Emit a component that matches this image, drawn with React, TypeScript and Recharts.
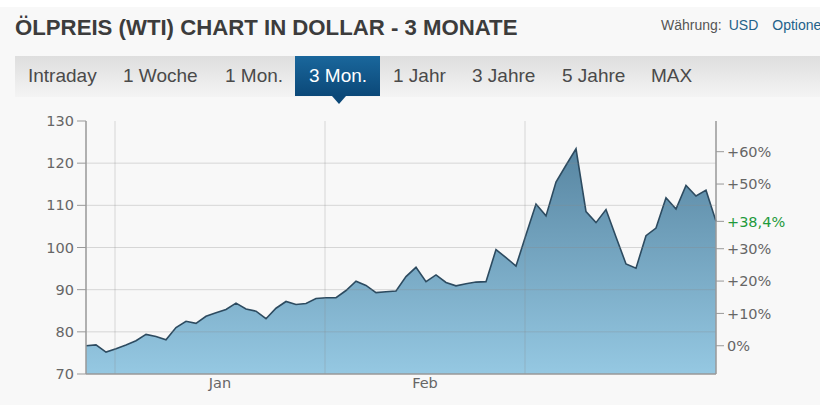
import React from "react";
import {
    AreaChart,
    Area,
    XAxis,
    YAxis,
    ReferenceLine,
} from "recharts";

// WTI close prices, one per trading day
const prices = [
    76.7, 76.9, 75.2, 76.0, 76.9, 77.9, 79.4, 78.9, 78.1, 81.0,
    82.5, 82.0, 83.7, 84.5, 85.3, 86.8, 85.4, 84.9, 83.1, 85.6,
    87.2, 86.5, 86.7, 87.9, 88.1, 88.1, 89.8, 92.0, 91.0, 89.3,
    89.5, 89.7, 93.1, 95.3, 91.9, 93.5, 91.7, 90.9, 91.4, 91.8,
    91.9, 99.5, 97.6, 95.6, 103.0, 110.3, 107.5, 115.5, 119.5, 123.4,
    108.5, 105.9, 109.0, 102.5, 96.1, 95.1, 102.8, 104.6, 111.8, 109.1,
    114.7, 112.2, 113.6, 106.2,
];

const monthLabels = ["Jan", "Feb"];
const monthLabelPos = [13.4, 33.9];
const monthStarts = [2.9, 23.9, 43.9];

const priceTicks = [70, 80, 90, 100, 110, 120, 130];
const pctTicks = [0, 10, 20, 30, 50, 60];
const lastPctLabel = "+38,4%";

const tabs = ["Intraday", "1 Woche", "1 Mon.", "3 Mon.", "1 Jahr", "3 Jahre", "5 Jahre", "MAX"];
const tabX = [28, 123, 225, 309, 393, 472, 562, 651];
const activeTab = 3;

const basePrice = prices[0];
const lastPrice = prices[prices.length - 1];
const pctTickValues = [...pctTicks.map((p) => basePrice * (1 + p / 100)), lastPrice];

const data = prices.map((price, idx) => ({ idx, price }));

const axisFont = "'DejaVu Sans', Verdana, sans-serif";

const PctTick = ({ x, y, payload }: any) => {
    const isLast = payload.value === lastPrice;
    let label = lastPctLabel;
    if (!isLast) {
        const i = pctTickValues.indexOf(payload.value);
        const p = pctTicks[i];
        label = p === 0 ? "0%" : `+${p}%`;
    }
    return (
        <text
            x={x}
            y={y}
            dy="0.36em"
            textAnchor="start"
            fontFamily={axisFont}
            fontSize={14.5}
            fill={isLast ? "#1f9a3c" : "#666"}
        >
            {label}
        </text>
    );
};

const App: React.FC = () => {
    return (
        <div
            style={{
                position: "fixed",
                top: 0,
                left: 0,
                width: 820,
                height: 405,
                background: "#f8f8f8",
                overflow: "hidden",
                fontFamily: "'Liberation Sans', Arial, sans-serif",
            }}
        >
            <div style={{ position: "absolute", top: 0, left: 0, width: 820, height: 7, background: "#fff" }} />
            <div
                style={{
                    position: "absolute",
                    top: 17,
                    left: 15,
                    fontSize: 22.2,
                    lineHeight: "22px",
                    fontWeight: "bold",
                    color: "#3c3c3c",
                    whiteSpace: "nowrap",
                }}
            >
                ÖLPREIS (WTI) CHART IN DOLLAR - 3 MONATE
            </div>
            <div
                style={{
                    position: "absolute",
                    top: 18,
                    left: 661,
                    fontSize: 14,
                    lineHeight: "14px",
                    color: "#555",
                    whiteSpace: "nowrap",
                }}
            >
                Währung:<span style={{ color: "#23628a", marginLeft: 7 }}>USD</span>
                <span style={{ color: "#23628a", marginLeft: 14 }}>Optionen</span>
            </div>

            {/* tab bar */}
            <div
                style={{
                    position: "absolute",
                    top: 56,
                    left: 15,
                    width: 805,
                    height: 41,
                    background: "linear-gradient(#dedede, #f4f4f4)",
                }}
            />
            <div
                style={{
                    position: "absolute",
                    top: 56,
                    left: 295,
                    width: 85,
                    height: 40,
                    background: "linear-gradient(#1a679c, #0b4878)",
                }}
            />
            <div
                style={{
                    position: "absolute",
                    top: 96,
                    left: 332,
                    width: 0,
                    height: 0,
                    borderLeft: "7px solid transparent",
                    borderRight: "7px solid transparent",
                    borderTop: "8px solid #0b4878",
                }}
            />
            {tabs.map((t, i) => (
                <div
                    key={t}
                    style={{
                        position: "absolute",
                        top: 66,
                        left: tabX[i],
                        fontSize: 19,
                        lineHeight: "19px",
                        color: i === activeTab ? "#fff" : "#4a4a4a",
                        whiteSpace: "nowrap",
                    }}
                >
                    {t}
                </div>
            ))}

            <div style={{ position: "absolute", top: 0, left: 0 }}>
                <AreaChart
                    width={820}
                    height={405}
                    data={data}
                    margin={{ top: 121, right: 0, bottom: 0, left: 0 }}
                >
                    <defs>
                        <linearGradient id="oilFill" x1="0" y1="0" x2="0" y2="1">
                            <stop offset="0%" stopColor="#5886a2" />
                            <stop offset="100%" stopColor="#95c8e2" />
                        </linearGradient>
                    </defs>
                    <XAxis
                        dataKey="idx"
                        type="number"
                        domain={[0, prices.length - 1]}
                        ticks={monthLabelPos}
                        tickFormatter={(v: number) => monthLabels[monthLabelPos.indexOf(v)]}
                        tickLine={false}
                        tickSize={0}
                        tickMargin={4}
                        height={31}
                        axisLine={{ stroke: "#999", strokeWidth: 1.5 }}
                        tick={{ fontFamily: axisFont, fontSize: 14.5, fill: "#666" }}
                    />
                    <YAxis
                        yAxisId="price"
                        domain={[70, 130]}
                        ticks={priceTicks}
                        width={86}
                        tickSize={9}
                        tickMargin={3}
                        axisLine={{ stroke: "#999", strokeWidth: 1.5 }}
                        tickLine={{ stroke: "#999" }}
                        tick={{ fontFamily: axisFont, fontSize: 14.5, fill: "#666" }}
                    />
                    <YAxis
                        yAxisId="pct"
                        orientation="right"
                        domain={[70, 130]}
                        ticks={pctTickValues}
                        interval={0}
                        width={104}
                        tickSize={8}
                        tickMargin={3}
                        axisLine={{ stroke: "#999", strokeWidth: 1.5 }}
                        tickLine={{ stroke: "#999" }}
                        tick={<PctTick />}
                    />
                    <Area
                        yAxisId="price"
                        type="linear"
                        dataKey="price"
                        stroke="#2d4b60"
                        strokeWidth={1.6}
                        fill="url(#oilFill)"
                        fillOpacity={1}
                        isAnimationActive={false}
                        dot={false}
                        activeDot={false}
                    />
                    {/* same series on the percent axis so that axis gets its ticks */}
                    <Area
                        yAxisId="pct"
                        type="linear"
                        dataKey="price"
                        stroke="none"
                        fill="none"
                        isAnimationActive={false}
                        dot={false}
                        activeDot={false}
                    />
                    {priceTicks
                        .filter((v) => v > 70 && v < 130)
                        .map((v) => (
                            <ReferenceLine
                                key={`h${v}`}
                                yAxisId="price"
                                y={v}
                                stroke="#888"
                                strokeOpacity={0.3}
                            />
                        ))}
                    {monthStarts.map((m) => (
                        <ReferenceLine
                            key={`v${m}`}
                            yAxisId="price"
                            x={m}
                            stroke="#888"
                            strokeOpacity={0.3}
                        />
                    ))}
                </AreaChart>
            </div>
        </div>
    );
};

export default App;
